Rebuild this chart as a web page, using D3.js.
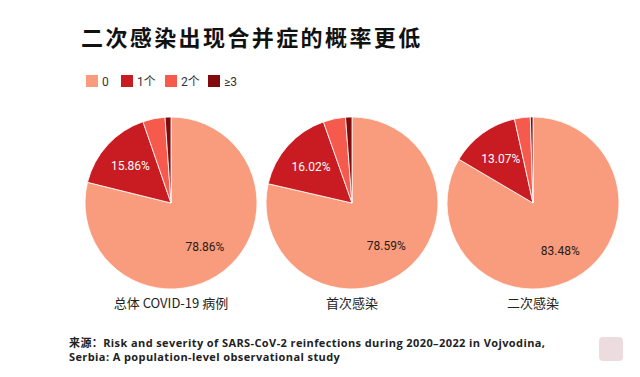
<!DOCTYPE html>
<html>
<head>
<meta charset="utf-8">
<script src="https://cdn.jsdelivr.net/npm/d3@7"></script>
<style>
  body { margin: 0; background: #fff; }
  svg { display: block; font-family: "Noto Sans CJK SC", "Noto Sans", sans-serif; }
</style>
</head>
<body>
<svg width="640" height="377"></svg>
<script>
// categories and values
const categories = ['0', '1个', '2个', '≥3'];
const groups = ['总体 COVID-19 病例', '首次感染', '二次感染'];
const overall = [78.86, 15.86, 4.18, 1.10];
const firstInf = [78.59, 16.02, 4.19, 1.20];
const reInf = [83.48, 13.07, 2.95, 0.50];
const series = [overall, firstInf, reInf];
const colors = ['#f89c7d', '#c81c22', '#f65a4c', '#820a0c'];

const svg = d3.select('svg');

svg.append('text')
    .attr('x', 81)
    .attr('y', 46)
    .attr('font-size', 22)
    .attr('font-weight', 'bold')
    .attr('letter-spacing', 2.4)
    .attr('fill', '#111')
    .text('二次感染出现合并症的概率更低');

const color = d3.scaleOrdinal().domain(categories).range(colors);

// legend
const legendX = [86, 121, 165, 208];
const legend = svg.append('g').selectAll('g')
    .data(categories)
    .enter().append('g')
    .attr('transform', (d, i) => `translate(${legendX[i]}, 75)`);
legend.append('rect')
    .attr('width', 12)
    .attr('height', 12)
    .attr('fill', d => color(d));
legend.append('text')
    .attr('x', 16)
    .attr('y', 10.5)
    .attr('font-family', 'Roboto, "Noto Sans CJK SC", sans-serif')
    .attr('font-size', 12)
    .attr('fill', '#333')
    .text(d => d);

const xScale = d3.scalePoint()
    .domain(groups)
    .range([171, 533]);

const radius = 86;
const pie = d3.pie().sort(null).value(d => d);
const arc = d3.arc().innerRadius(0).outerRadius(radius);
const labelArc = d3.arc().innerRadius(55).outerRadius(55);

groups.forEach((g, gi) => {
  const chart = svg.append('g')
      .attr('transform', `translate(${xScale(g)}, 203)`);
  const arcs = pie(series[gi]);
  chart.selectAll('path')
      .data(arcs)
      .enter().append('path')
      .attr('d', arc)
      .attr('fill', (d, i) => colors[i])
      .attr('stroke', '#fff')
      .attr('stroke-width', 0.8);
  chart.selectAll('text.lbl')
      .data(arcs.filter((d, i) => i < 2))
      .enter().append('text')
      .attr('class', 'lbl')
      .attr('transform', d => `translate(${labelArc.centroid(d)})`)
      .attr('text-anchor', 'middle')
      .attr('dy', '0.35em')
      .attr('font-family', 'Roboto, sans-serif')
      .attr('font-size', 12)
      .attr('fill', (d, i) => i === 0 ? '#2a1a14' : '#fff')
      .text(d => d.data.toFixed(2) + '%');
  svg.append('text')
      .attr('x', xScale(g))
      .attr('y', 308)
      .attr('text-anchor', 'middle')
      .attr('font-size', 13)
      .attr('fill', '#222')
      .text(g);
});

// source
const source = svg.append('g')
    .attr('font-family', '"Open Sans", "Noto Sans CJK SC", sans-serif')
    .attr('font-size', 11)
    .attr('font-weight', 'bold')
    .attr('letter-spacing', 0.4)
    .attr('fill', '#222');
source.append('text')
    .attr('x', 69).attr('y', 347)
    .text('来源：Risk and severity of SARS-CoV-2 reinfections during 2020–2022 in Vojvodina,');
source.append('text')
    .attr('x', 69).attr('y', 361)
    .text('Serbia: A population-level observational study');

// faint watermark at bottom right
svg.append('rect')
    .attr('x', 599).attr('y', 337)
    .attr('width', 24).attr('height', 24)
    .attr('rx', 4)
    .attr('fill', '#ecdcdf');
</script>
</body>
</html>
